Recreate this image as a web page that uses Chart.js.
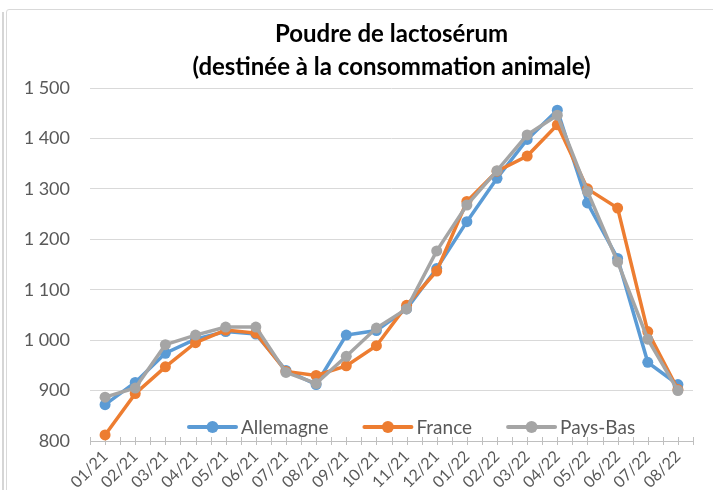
<!DOCTYPE html>
<html>
<head>
<meta charset="utf-8">
<script src="https://cdn.jsdelivr.net/npm/chart.js@4"></script>
<style>
  html, body { margin: 0; padding: 0; background: #fff; }
  body { width: 713px; height: 490px; position: relative; overflow: hidden; }
  #frameA { position: absolute; left: 2px; top: 12px; width: 2px; height: 480px; background: #d6d6d6; }
  #frameB { position: absolute; left: 6px; top: 9px; width: 720px; height: 500px; border: 1px solid #d9d9d9; border-radius: 3px; box-sizing: border-box; }
  #wrap { position: absolute; left: 0; top: 0; width: 713px; height: 490px; }
</style>
</head>
<body>
<div id="frameA"></div>
<div id="frameB"></div>
<div id="wrap"><canvas id="c" width="713" height="490"></canvas></div>
<script>
const categories = ['01/21','02/21','03/21','04/21','05/21','06/21','07/21','08/21','09/21','10/21','11/21','12/21','01/22','02/22','03/22','04/22','05/22','06/22','07/22','08/22'];
const allemagne = [872, 916, 974, 1002, 1017, 1012, 940, 912, 1010, 1019, 1062, 1142, 1235, 1321, 1398, 1456, 1272, 1162, 956, 912];
const france    = [812, 894, 947, 995, 1020, 1014, 938, 930, 949, 989, 1069, 1137, 1275, 1335, 1365, 1427, 1300, 1262, 1017, 902];
const paysBas   = [887, 905, 991, 1010, 1026, 1026, 936, 914, 968, 1024, 1062, 1177, 1268, 1336, 1407, 1446, 1295, 1155, 1002, 900];
const seriesNames = ['Allemagne', 'France', 'Pays-Bas'];
const yTickLabels = ['800', '900', '1 000', '1 100', '1 200', '1 300', '1 400', '1 500'];
const titleLines = ['Poudre de lactosérum', '(destinée à la consommation animale)'];

const FONT = 'Lato, "Open Sans", "Liberation Sans", sans-serif';
const colors = ['#5B9BD5', '#ED7D31', '#A5A5A5'];

const minorTicks = {
  id: 'minorTicks',
  beforeDatasetsDraw(chart) {
    const x = chart.scales.x, ctx = chart.ctx;
    const y0 = chart.chartArea.bottom;
    const half = (x.getPixelForValue(1) - x.getPixelForValue(0)) / 2;
    ctx.save();
    ctx.strokeStyle = '#bfbfbf';
    ctx.lineWidth = 1;
    ctx.beginPath();
    for (let i = 0; i < categories.length; i++) {
      const c = x.getPixelForValue(i);
      [c - half, c].forEach(p => { const px = Math.round(p) + 0.5; ctx.moveTo(px, y0 - 4); ctx.lineTo(px, y0 + 4); });
      if (i === categories.length - 1) { const px = Math.round(c + half) + 0.5; ctx.moveTo(px, y0 - 4); ctx.lineTo(px, y0 + 4); }
    }
    ctx.stroke();
    ctx.restore();
  }
};

const innerLegend = {
  id: 'innerLegend',
  afterDraw(chart) {
    const ctx = chart.ctx;
    const ca = chart.chartArea;
    ctx.save();
    ctx.font = '19px ' + FONT;
    ctx.textBaseline = 'middle';
    let x = ca.left + 99;
    const y = ca.bottom - 14;
    chart.data.datasets.forEach((ds) => {
      ctx.strokeStyle = ds.borderColor;
      ctx.lineWidth = 4;
      ctx.lineCap = 'round';
      ctx.beginPath(); ctx.moveTo(x, y); ctx.lineTo(x + 47, y); ctx.stroke();
      ctx.fillStyle = ds.borderColor;
      ctx.beginPath(); ctx.arc(x + 23.5, y, 6, 0, Math.PI * 2); ctx.fill();
      ctx.fillStyle = '#595959';
      ctx.fillText(ds.label, x + 52, y + 1);
      x += 52 + ctx.measureText(ds.label).width + 36;
    });
    ctx.restore();
  }
};

const mk = (i, data, order) => ({
  label: seriesNames[i], data,
  borderColor: colors[i], backgroundColor: colors[i],
  pointBackgroundColor: colors[i], pointBorderColor: colors[i],
  borderWidth: 3.5, pointRadius: 5.5, pointBorderWidth: 0, pointHoverRadius: 5.5,
  tension: 0, order
});

new Chart(document.getElementById('c'), {
  type: 'line',
  data: {
    labels: categories,
    datasets: [mk(0, allemagne, 2), mk(1, france, 1), mk(2, paysBas, 0)]
  },
  options: {
    responsive: false,
    animation: false,
    devicePixelRatio: 1,
    layout: { padding: { left: 0, right: 20, top: 0, bottom: 0 } },
    plugins: {
      legend: { display: false },
      tooltip: { enabled: false },
      title: {
        display: true, fullSize: false,
        text: titleLines,
        color: '#000',
        font: { family: FONT, size: 24, weight: 'bold', lineHeight: 1.375 },
        padding: { top: 18, bottom: 4 }
      }
    },
    scales: {
      x: {
        offset: true,
        grid: { display: true, drawOnChartArea: false, drawTicks: false, offset: true },
        border: { display: true, color: '#bfbfbf', width: 1 },
        ticks: { maxRotation: 45, minRotation: 45, autoSkip: false, padding: 6, color: '#595959', font: { family: FONT, size: 16 } },
        afterFit(s) { s.height = 49; }
      },
      y: {
        min: 800, max: 1500,
        grid: { color: '#d9d9d9', drawTicks: false },
        border: { display: false },
        ticks: { stepSize: 100, padding: 20, color: '#595959', font: { family: FONT, size: 18 },
          callback: (v, i) => yTickLabels[i] },
        afterFit(s) { s.width = 90; }
      }
    }
  },
  plugins: [minorTicks, innerLegend]
});
</script>
</body>
</html>
